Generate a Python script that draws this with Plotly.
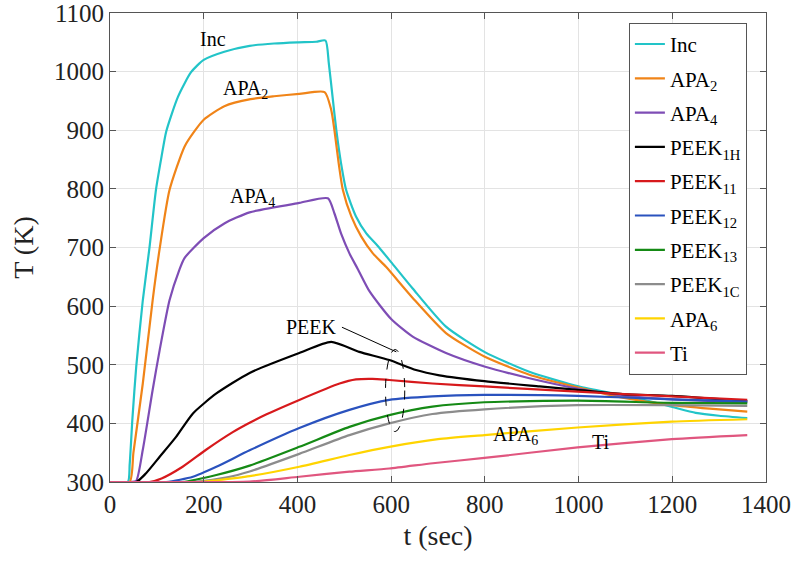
import plotly.graph_objects as go

# Temperature histories T(t) for each material layer
inc_t = [0, 38, 42, 48, 56, 70, 84, 98, 110, 120, 145, 173, 200, 244, 298, 350, 400, 440, 460,
         467, 475, 483, 493, 504, 525, 547, 571, 600, 646, 717, 799, 895, 1000, 1073, 1110, 1150,
         1200, 1250, 1300, 1360]
inc_T = [300, 300, 330, 410, 497, 610, 698, 798, 855, 898, 957, 999, 1020, 1034, 1044, 1048, 1050, 1051, 1053,
         1014, 957, 900, 844, 798, 753, 724, 703, 675, 630, 565, 522, 488, 463, 451, 445, 438,
         428, 418, 413, 409]

apa2_t = [0, 42, 50, 70, 91, 106, 127, 159, 180, 200, 244, 300, 350, 404, 458,
          472, 479, 488, 497, 515, 536, 561, 589, 646, 717, 799, 895, 1000, 1100, 1200, 1280, 1360]
apa2_T = [300, 300, 350, 468, 610, 698, 798, 872, 898, 918, 941, 953, 958, 962, 965,
          935, 900, 844, 798, 753, 719, 690, 667, 614, 554, 514, 483, 461, 443, 431, 425, 420]

apa4_t = [0, 45, 56, 70, 91, 106, 127, 148, 159, 200, 244, 298, 404, 465,
          479, 493, 511, 529, 554, 600, 646, 717, 799, 895, 1000, 1100, 1200, 1360]
apa4_T = [300, 300, 302, 355, 457, 525, 610, 662, 682, 716, 741, 760, 776, 784,
          758, 724, 690, 663, 625, 578, 548, 520, 497, 477, 459, 447, 441, 436]

peek1h_t = [0, 56, 77, 106, 141, 177, 227, 298, 404, 472, 532, 596, 653, 703, 799, 917, 998, 1094, 1199, 1360]
peek1h_T = [300, 300, 315, 343, 377, 417, 451, 486, 520, 539, 522, 508, 491, 482, 472, 463, 457, 450, 447, 438]

peek11_t = [0, 84, 110, 155, 205, 262, 298, 333, 404, 490, 525, 560, 596, 688, 799, 998, 1199, 1360]
peek11_T = [300, 300, 306, 326, 355, 385, 401, 415, 440, 468, 475, 476, 474, 468, 463, 454, 446, 440]

peek12_t = [0, 120, 177, 227, 298, 404, 511, 596, 688, 799, 998, 1199, 1360]
peek12_T = [300, 300, 309, 326, 354, 392, 423, 440, 446, 448.5, 447, 441, 437]

peek13_t = [0, 155, 227, 298, 404, 511, 596, 688, 799, 998, 1199, 1360]
peek13_T = [300, 300, 312, 328, 360, 394, 414, 428.5, 436, 438.7, 435, 434]

peek1c_t = [0, 177, 250, 298, 404, 511, 596, 688, 799, 998, 1199, 1360]
peek1c_T = [300, 300, 308, 318, 348, 380, 400, 416, 424, 431, 431, 430]

apa6_t = [0, 190, 227, 298, 404, 511, 596, 700, 799, 998, 1199, 1360]
apa6_T = [300, 300, 303, 310, 326, 346, 360, 373, 380, 393, 403, 407]

ti_t = [0, 250, 298, 404, 511, 596, 689, 799, 998, 1199, 1360]
ti_T = [300, 300, 300.5, 309, 317.6, 323, 332, 341, 359, 373, 380]

names = ["Inc", "APA<sub>2</sub>", "APA<sub>4</sub>", "PEEK<sub>1H</sub>", "PEEK<sub>11</sub>",
         "PEEK<sub>12</sub>", "PEEK<sub>13</sub>", "PEEK<sub>1C</sub>", "APA<sub>6</sub>", "Ti"]
colors = ["#22C4C8", "#F08418", "#7E4DB5", "#000000", "#D7191C",
          "#2A52BE", "#158A15", "#8C8C8C", "#FFD400", "#E0567F"]
series = [(inc_t, inc_T), (apa2_t, apa2_T), (apa4_t, apa4_T), (peek1h_t, peek1h_T),
          (peek11_t, peek11_T), (peek12_t, peek12_T), (peek13_t, peek13_T),
          (peek1c_t, peek1c_T), (apa6_t, apa6_T), (ti_t, ti_T)]

x_ticks = [0, 200, 400, 600, 800, 1000, 1200, 1400]
y_ticks = [300, 400, 500, 600, 700, 800, 900, 1000, 1100]

serif = "Liberation Serif"

fig = go.Figure()
for i, (name, col, (t, T)) in enumerate(zip(names, colors, series)):
    fig.add_trace(go.Scatter(x=t, y=T, mode="lines", name=name, legendgroup=f"g{i}",
                             line=dict(color=col, width=2.2, shape="spline", smoothing=0.6)))

# In-plot curve labels
labels = [
    ("Inc", 219, 1056),
    ("APA<sub>2</sub>", 289, 970),
    ("APA<sub>4</sub>", 304, 786),
    ("PEEK", 429, 564),
    ("APA<sub>6</sub>", 865, 380),
    ("Ti", 1048, 369),
]
for txt, lx, ly in labels:
    fig.add_annotation(x=lx, y=ly, text=txt, showarrow=False,
                       font=dict(family=serif, size=20, color="black"))

# Leader line and dashed ellipse marking the PEEK group
fig.add_shape(type="line", x0=495, y0=564, x1=611, y1=522,
              line=dict(color="black", width=1))
fig.add_shape(type="circle", x0=588, x1=629, y0=386, y1=526,
              line=dict(color="black", width=1, dash="dash"))

axis_common = dict(showline=True, linecolor="#555555", linewidth=1, mirror="ticks",
                   ticks="inside", ticklen=6, tickcolor="#555555",
                   showgrid=True, gridcolor="#E3E3E3", gridwidth=1, zeroline=False,
                   ticklabeloverflow="allow", automargin=False,
                   tickfont=dict(family=serif, size=25, color="#222222"))

fig.update_xaxes(range=[0, 1400], tickvals=x_ticks,
                 title=dict(text="t (sec)", font=dict(family=serif, size=28, color="#222222"), standoff=8),
                 **axis_common)
fig.update_yaxes(range=[300, 1100], tickvals=y_ticks,
                 title=dict(text="T (K)", font=dict(family=serif, size=28, color="#222222"), standoff=12),
                 **axis_common)

fig.update_layout(
    width=794, height=563,
    margin=dict(l=110, r=28, t=13, b=81),
    plot_bgcolor="white", paper_bgcolor="white",
    font=dict(family=serif),
    legend=dict(x=0.791, y=0.979, xanchor="left", yanchor="top",
                bgcolor="white", bordercolor="#555555", borderwidth=1,
                font=dict(family=serif, size=21, color="black"),
                itemwidth=30, tracegroupgap=4),
)

fig.write_html("out.html")
